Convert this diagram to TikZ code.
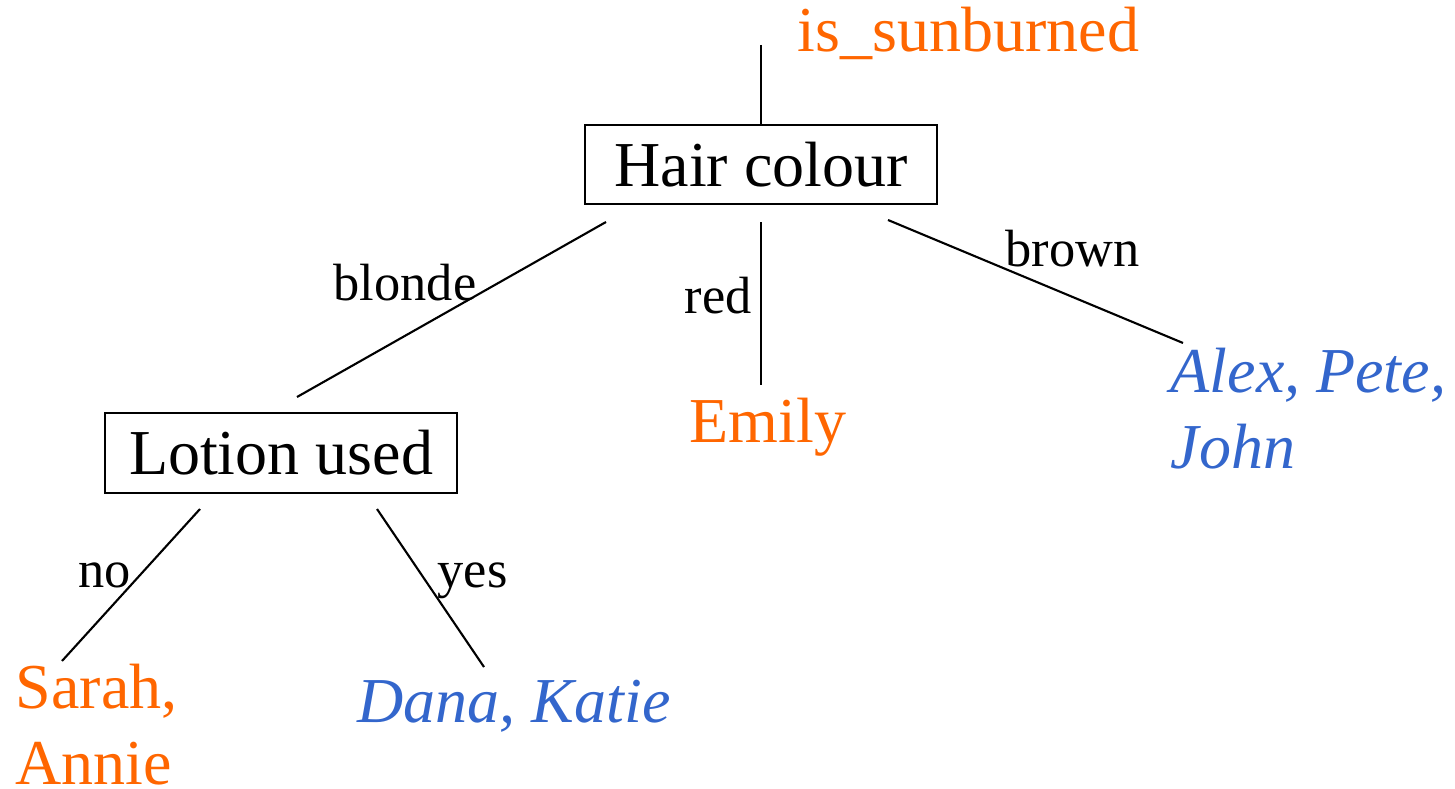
\documentclass[tikz,border=0pt]{standalone}
\usepackage{fontspec}
\setmainfont{Liberation Serif}
\definecolor{burnt}{RGB}{255,102,0}
\definecolor{safe}{RGB}{51,102,204}
\tikzstyle{attr}=[draw,line width=0.6pt,minimum width=100pt,minimum height=22.6pt,inner sep=0pt,font=\fontsize{18.2}{21.8}\selectfont]
\tikzstyle{leaf}=[anchor=base west,inner sep=0pt,align=left,font=\fontsize{18.2}{21.6}\selectfont]
\tikzstyle{val}=[anchor=base west,inner sep=0pt,font=\fontsize{14.9}{18}\selectfont]
\tikzstyle{branch}=[line width=0.6pt]
\begin{document}
\begin{tikzpicture}[x=0.01cm,y=-0.01cm]
\useasboundingbox (0,0) rectangle (1455,788);
% tests
\node[attr] (hair) at (761,164.5) {Hair colour};
\node[attr] (lotion) at (281,453) {Lotion used};
% class and leaves (two-line leaves sit on their last line)
\node[leaf,text=burnt] (sunburned) at (797,52) {is\_sunburned};
\node[leaf,text=burnt] (emily) at (689,442) {Emily};
\node[leaf,text=safe,font=\fontsize{18.2}{21.6}\selectfont\itshape] (alex) at (1170,468) {Alex, Pete,\\John};
\node[leaf,text=burnt] (sarah) at (15,784) {Sarah,\\Annie};
\node[leaf,text=safe,font=\fontsize{18.2}{21.6}\selectfont\itshape] (dana) at (357,722) {Dana, Katie};
% branch ends
\coordinate (root) at (761,45);
\coordinate (blondeA) at (606,222);
\coordinate (blondeB) at (297,397);
\coordinate (redA) at (761,222);
\coordinate (redB) at (761,385);
\coordinate (brownA) at (888,220);
\coordinate (brownB) at (1183,343);
\coordinate (noA) at (200,509);
\coordinate (noB) at (62,661);
\coordinate (yesA) at (377,509);
\coordinate (yesB) at (484,667);
\draw[branch] (root) -- (hair.north);
\draw[branch] (blondeA) -- (blondeB);
\draw[branch] (redA) -- (redB);
\draw[branch] (brownA) -- (brownB);
\draw[branch] (noA) -- (noB);
\draw[branch] (yesA) -- (yesB);
% values
\node[val] (blonde) at (333,300) {blonde};
\node[val] (red) at (684,313) {red};
\node[val] (brown) at (1005,266) {brown};
\node[val] (no) at (78,587) {no};
\node[val] (yes) at (437,587) {yes};
\end{tikzpicture}
\end{document}
